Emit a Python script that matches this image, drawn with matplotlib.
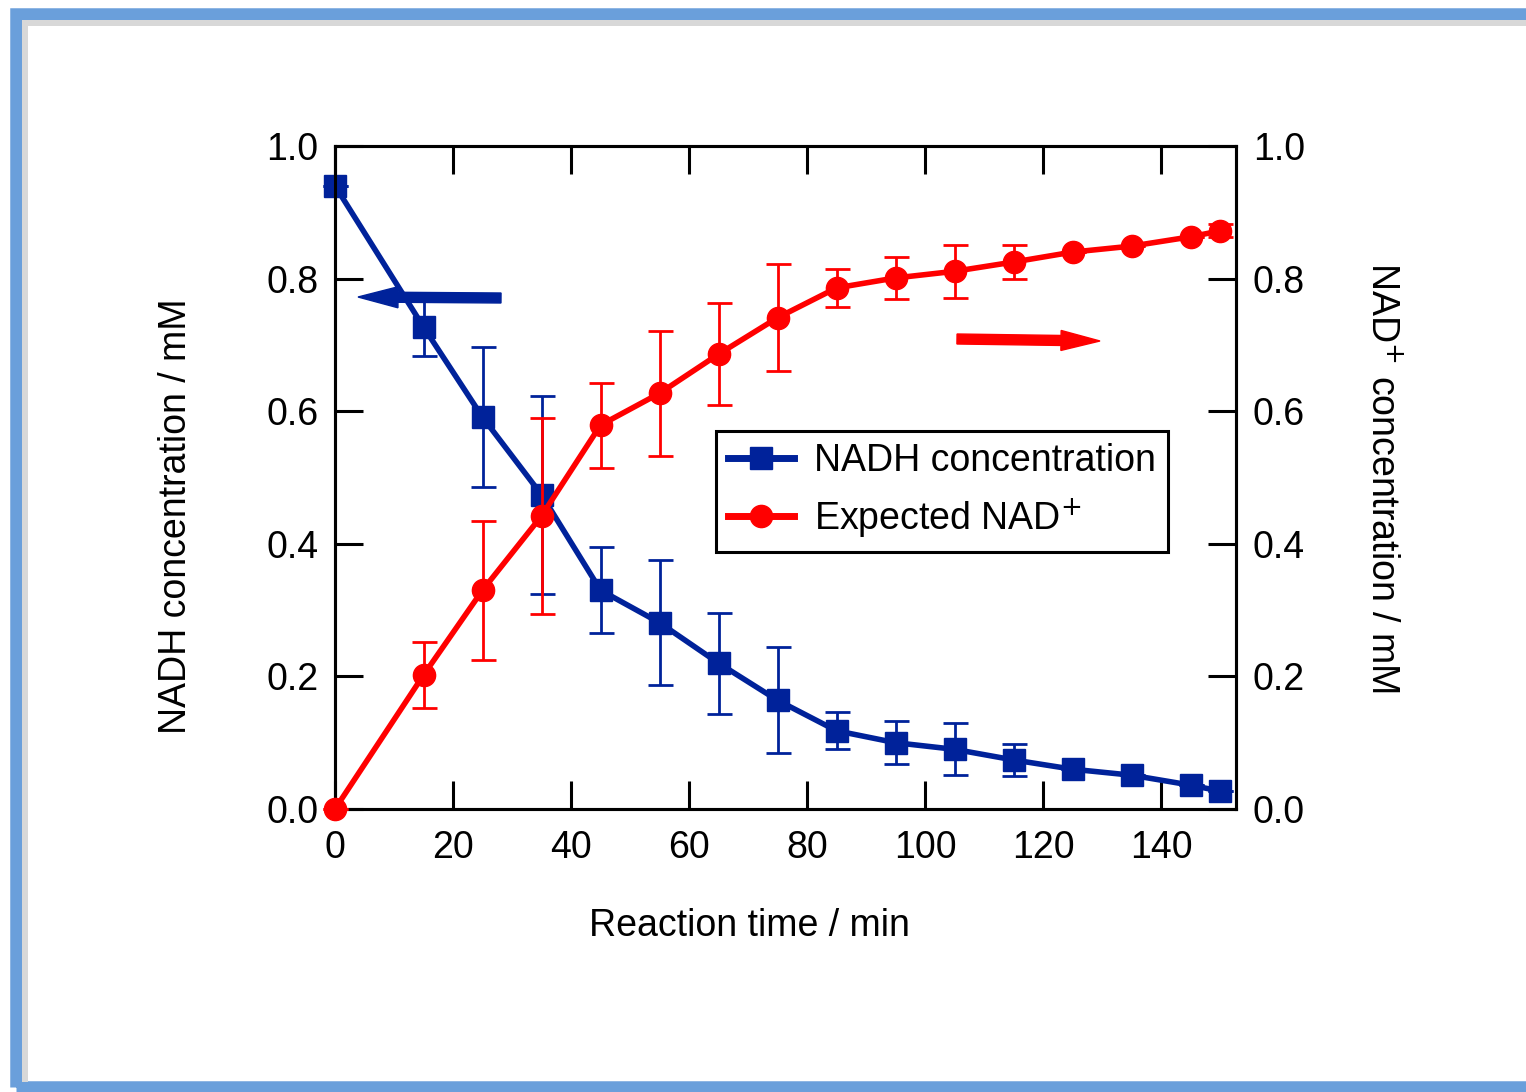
import matplotlib
matplotlib.use("Agg")
import matplotlib.pyplot as plt
from matplotlib.patches import Rectangle, FancyArrow
from matplotlib.lines import Line2D
from matplotlib.transforms import IdentityTransform

plt.rcParams['font.family'] = ['Liberation Sans', 'DejaVu Sans']

# ---- data ----
time_min = [0, 15, 25, 35, 45, 55, 65, 75, 85, 95, 105, 115, 125, 135, 145, 150]
nadh = [0.940, 0.727, 0.591, 0.474, 0.330, 0.281, 0.220, 0.164, 0.118, 0.100,
        0.090, 0.074, 0.060, 0.051, 0.036, 0.027]
nadh_err = [0.0, 0.044, 0.106, 0.149, 0.065, 0.094, 0.076, 0.080, 0.028, 0.032,
            0.039, 0.024, 0.0, 0.0, 0.0, 0.0]
nad = [0.0, 0.202, 0.330, 0.442, 0.579, 0.627, 0.686, 0.741, 0.786, 0.801,
       0.811, 0.825, 0.840, 0.849, 0.863, 0.872]
nad_err = [0.0, 0.050, 0.105, 0.148, 0.064, 0.094, 0.077, 0.081, 0.029, 0.032,
           0.040, 0.025, 0.0, 0.0, 0.0, 0.010]
x_ticks = [0, 20, 40, 60, 80, 100, 120, 140]
y_ticks = [0.0, 0.2, 0.4, 0.6, 0.8, 1.0]

BLUE = '#00229A'
RED = '#FF0000'
FS = 27

W, H = 1526, 1092
fig = plt.figure(figsize=(W / 100, H / 100), dpi=100)

# frame
fig.patches.append(Rectangle((16 / W, 1 - 1087 / H), (W + 40) / W, (1087 - 14) / H,
                             transform=fig.transFigure, fill=False,
                             edgecolor='#6A9FDB', linewidth=9, zorder=0))
fig.patches.append(Rectangle((22 / W, 1 - 1082 / H), 6 / W, (1082 - 20) / H,
                             transform=fig.transFigure, facecolor='#D8D8D8',
                             edgecolor='none', zorder=0))
fig.patches.append(Rectangle((22 / W, 1 - 26 / H), (W) / W, 6 / H,
                             transform=fig.transFigure, facecolor='#D8D8D8',
                             edgecolor='none', zorder=0))

ax = fig.add_axes([335 / W, 1 - 809 / H, (1236 - 335) / W, (809 - 146) / H])
ax2 = ax.twinx()

ax.errorbar(time_min, nadh, yerr=nadh_err, color=BLUE, marker='s',
            markersize=16, linewidth=4, elinewidth=2, capsize=9,
            capthick=2, zorder=3, clip_on=False)
ax2.errorbar(time_min, nad, yerr=nad_err, color=RED, marker='o',
             markersize=16, linewidth=4, elinewidth=2, capsize=9,
             capthick=2, zorder=3, clip_on=False)

for a in (ax, ax2):
    a.set_xlim(0, 152.7)
    a.set_ylim(0, 1.0)
    for s in a.spines.values():
        s.set_linewidth(2.2)
ax.set_xticks(x_ticks)
ax.set_yticks(y_ticks)
ax2.set_yticks(y_ticks)
ax.set_yticklabels([f'{v:.1f}' for v in y_ticks])
ax2.set_yticklabels([f'{v:.1f}' for v in y_ticks])
ax.tick_params(axis='both', direction='in', length=20, width=2.2, labelsize=FS,
               top=True)
ax.tick_params(axis='x', pad=15)
ax.tick_params(axis='y', right=False, pad=12)
ax2.tick_params(axis='y', direction='in', length=20, width=2.2, labelsize=FS, pad=12)

ax.set_xlabel('Reaction time / min', fontsize=FS, labelpad=30)
ax.xaxis.label.set_x(0.46)
ax.set_ylabel('NADH concentration / mM', fontsize=FS, labelpad=52)
ax.yaxis.label.set_y(0.442)
ax2.set_ylabel('NAD$^{+}$ concentration / mM', fontsize=FS, rotation=270,
               labelpad=68)

h1 = Line2D([], [], color=BLUE, marker='s', markersize=16, linewidth=5)
h2 = Line2D([], [], color=RED, marker='o', markersize=16, linewidth=5)
leg = ax2.legend([h1, h2], ['NADH concentration', 'Expected NAD$^{+}$'],
                 loc='upper left', bbox_to_anchor=(716 / W, 1 - 431 / H),
                 bbox_transform=fig.transFigure, fontsize=FS, frameon=True,
                 fancybox=False, edgecolor='black', framealpha=1,
                 handlelength=1.75, borderpad=0.32, labelspacing=0.45,
                 handletextpad=0.55, borderaxespad=0)
leg.get_frame().set_linewidth(2.2)

# direction arrows (figure pixel coordinates, origin bottom-left)
fig.patches.append(FancyArrow(501, H - 298, -143, 1, width=10, head_width=21,
                              head_length=40, length_includes_head=True,
                              color=BLUE, transform=IdentityTransform(), zorder=5))
fig.patches.append(FancyArrow(957, H - 339, 143, -2, width=10, head_width=20,
                              head_length=39, length_includes_head=True,
                              color=RED, transform=IdentityTransform(), zorder=5))

fig.savefig('out.png', dpi=100, facecolor='white')
